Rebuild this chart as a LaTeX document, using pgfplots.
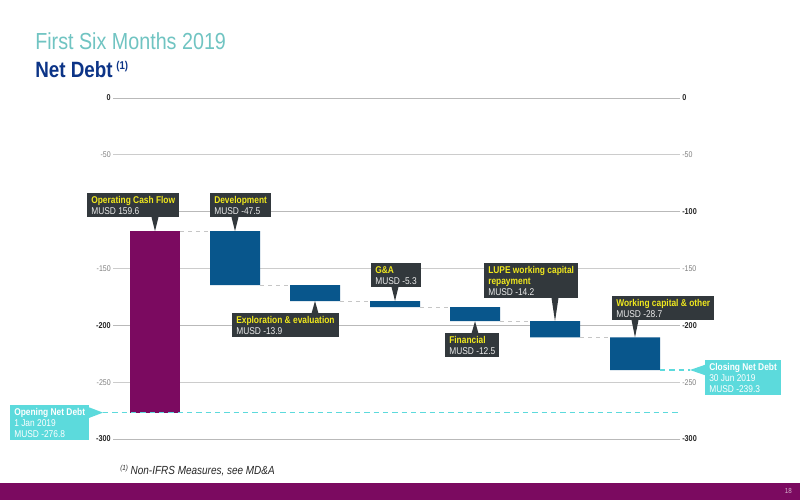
\documentclass[border=0pt]{standalone}
\usepackage{fontspec}
\setmainfont{Liberation Sans}
\newfontfamily\cond[FakeStretch=0.85]{Liberation Sans}
\usepackage{pgfplots}
\pgfplotsset{compat=1.18}
\usetikzlibrary{calc}

\definecolor{cpurple}{RGB}{123,10,96}
\definecolor{cblue}{RGB}{8,86,140}
\definecolor{cdark}{RGB}{50,56,60}
\definecolor{cyel}{RGB}{240,232,30}
\definecolor{ccyan}{RGB}{92,218,220}
\definecolor{cteal}{RGB}{112,196,194}
\definecolor{cnavy}{RGB}{12,52,135}

% waterfall: invisible base = top of each bar, then the step
\pgfplotstableread{
x  base    open   step
0  -117.2  -159.6  0
1  -117.2  0      -47.5
2  -164.7  0      -13.9
3  -178.6  0      -5.3
4  -183.9  0      -12.5
5  -196.4  0      -14.2
6  -210.6  0      -28.7
}\netdebt

\tikzset{
  cbox/.style={fill=cdark, text=white!92!black, align=left, inner xsep=3pt, inner ysep=2.2pt,
    font=\cond\fontsize{7.4}{8.2}\selectfont},
  qbox/.style={fill=ccyan, text=white, align=left, inner xsep=3pt, inner ysep=2.2pt,
    font=\cond\fontsize{7.4}{8.2}\selectfont},
}
% callout, pointer down: name, box nw x, box nw y, tip x, tip y, text
\newcommand\cdown[6]{%
  \node[cbox, anchor=north west] (#1) at (axis cs:#2,#3) {#6};
  \coordinate (#1t) at (axis cs:#4,#5);
  \fill[cdark] ($(#1.south -| #1t)+(-2.6pt,0.3pt)$) -- (#1t) -- ($(#1.south -| #1t)+(2.6pt,0.3pt)$) -- cycle;
}
% callout, pointer up
\newcommand\cupp[6]{%
  \node[cbox, anchor=north west] (#1) at (axis cs:#2,#3) {#6};
  \coordinate (#1t) at (axis cs:#4,#5);
  \fill[cdark] ($(#1.north -| #1t)+(-2.6pt,-0.3pt)$) -- (#1t) -- ($(#1.north -| #1t)+(2.6pt,-0.3pt)$) -- cycle;
}

\begin{document}
\begin{tikzpicture}
\fill[white] (0,0) rectangle (600pt,375pt);
\useasboundingbox (0,0) rectangle (600pt,375pt);

\pgfplotsset{
  frame/.style={at={(84.75pt,45.75pt)}, anchor=south west, scale only axis,
    width=425.25pt, height=255.75pt, xmin=-0.525, xmax=6.5625, ymin=-300, ymax=0,
    axis line style={draw=none}, xtick=\empty, ytick={0,-100,-200,-300}, major tick length=0,
    /pgf/number format/assume math mode=true,
    yticklabel style={font=\cond\bfseries\fontsize{6.4}{7}\selectfont, text=black!85, inner xsep=1.5pt},
    extra y ticks={-50,-150,-250},
    extra y tick style={yticklabel style={font=\cond\fontsize{6.2}{7}\selectfont, text=black!50}},
  }
}

% left labels: -100 sits under the Operating Cash Flow box, so it is left out
\begin{axis}[frame, yticklabels={0,{},-200,-300}, ymajorgrids, grid style={gray!55, line width=0.5pt},
  extra y tick style={grid=major, major grid style={gray!40, line width=0.5pt}},
  ybar stacked, bar width=37.5pt]
\addplot[draw=none, fill=none] table[x=x, y=base] {\netdebt};
\addplot[draw=none, fill=cpurple] table[x=x, y=open] {\netdebt};
\addplot[draw=none, fill=cblue] table[x=x, y=step] {\netdebt};
\end{axis}

\begin{axis}[frame, yticklabel pos=right, clip=false]
% connectors between bars
\addplot[gray!45, dashed, line width=0.5pt] coordinates {(0.3125,-117.2) (0.6875,-117.2)};
\addplot[gray!45, dashed, line width=0.5pt] coordinates {(1.3125,-164.7) (1.6875,-164.7)};
\addplot[gray!45, dashed, line width=0.5pt] coordinates {(2.3125,-178.6) (2.6875,-178.6)};
\addplot[gray!45, dashed, line width=0.5pt] coordinates {(3.3125,-183.9) (3.6875,-183.9)};
\addplot[gray!45, dashed, line width=0.5pt] coordinates {(4.3125,-196.4) (4.6875,-196.4)};
\addplot[gray!45, dashed, line width=0.5pt] coordinates {(5.3125,-210.6) (5.6875,-210.6)};
% opening and closing levels
\addplot[ccyan, line width=1pt, dash pattern=on 4pt off 3pt] coordinates {(-0.65,-276.8) (6.5625,-276.8)};
\addplot[ccyan, line width=1pt, dash pattern=on 4pt off 3pt] coordinates {(6.3125,-239.3) (6.6875,-239.3)};

\cdown{ocf}{-0.85}{-83.6}{0}{-117.2}{\textcolor{cyel}{\bfseries Operating Cash Flow}\\MUSD 159.6}
\cdown{dev}{0.6875}{-83.6}{1}{-117.2}{\textcolor{cyel}{\bfseries Development}\\MUSD -47.5}
\cupp{exp}{0.9625}{-189.1}{2}{-178.6}{\textcolor{cyel}{\bfseries Exploration \& evaluation}\\MUSD -13.9}
\cdown{ga}{2.7}{-145.2}{3}{-178.6}{\textcolor{cyel}{\bfseries G\&A}\\MUSD -5.3}
\cupp{fin}{3.625}{-206.7}{4}{-196.4}{\textcolor{cyel}{\bfseries Financial}\\MUSD -12.5}
\cdown{lupe}{4.1125}{-145.2}{5}{-196.4}{\textcolor{cyel}{\bfseries LUPE working capital}\\\textcolor{cyel}{\bfseries repayment}\\MUSD -14.2}
\cdown{wc}{5.7125}{-174.2}{6}{-210.6}{\textcolor{cyel}{\bfseries Working capital \& other}\\MUSD -28.7}

\node[qbox, anchor=north west] (cl) at (axis cs:6.875,-230.5) {{\bfseries Closing Net Debt}\\30 Jun 2019\\MUSD -239.3};
\coordinate (clt) at (axis cs:6.6875,-239.3);
\fill[ccyan] ($(cl.west |- clt)+(0.3pt,4pt)$) -- (clt) -- ($(cl.west |- clt)+(0.3pt,-4pt)$) -- cycle;

\node[qbox, anchor=north west] (op) at (axis cs:-1.8125,-270.1) {{\bfseries Opening Net Debt}\\1 Jan 2019\\MUSD -276.8};
\coordinate (opt) at (axis cs:-0.65,-276.8);
\fill[ccyan] ($(op.east |- opt)+(-0.3pt,4pt)$) -- (opt) -- ($(op.east |- opt)+(-0.3pt,-4pt)$) -- cycle;
\end{axis}

% titles, footnote and footer band
\node[anchor=base west, inner sep=0, text=cteal, font=\cond\fontsize{17.4}{20}\selectfont] at (26.25pt,337.5pt) {First Six Months 2019};
\node[anchor=base west, inner sep=0, text=cnavy, font=\cond\bfseries\fontsize{16.6}{19}\selectfont] at (26.25pt,317pt) {Net Debt\,\raisebox{5.5pt}{\fontsize{8.5}{9}\selectfont(1)}};
\node[anchor=base west, inner sep=0, text=black!85, font=\cond\itshape\fontsize{8.8}{10}\selectfont] at (90pt,19.5pt) {\raisebox{3pt}{\fontsize{5.5}{6}\selectfont(1)} Non-IFRS Measures, see MD\&A};
\fill[cpurple] (0,0) rectangle (600pt,12.75pt);
\node[anchor=east, inner sep=0, text=white!70!cpurple, font=\cond\fontsize{5.5}{6}\selectfont] at (594pt,6.4pt) {18};
\end{tikzpicture}
\end{document}
